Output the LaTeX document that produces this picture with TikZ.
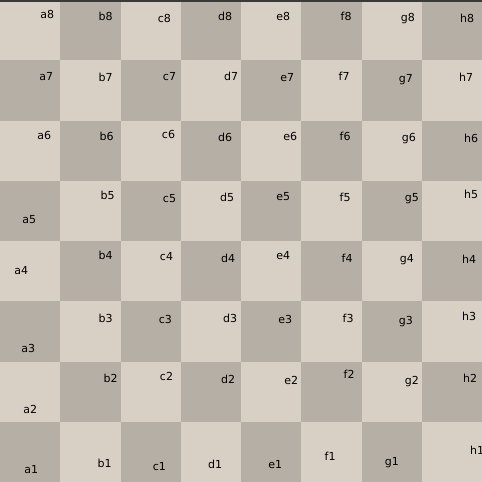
\documentclass[tikz,border=0pt]{standalone}
\usepackage{fontspec}
\setmainfont{DejaVu Sans}
\definecolor{BoardLight}{RGB}{217,208,197}
\definecolor{BoardDark} {RGB}{182,175,165}
\definecolor{BoardEdge} {RGB}{58,58,58}

\begin{document}
\begin{tikzpicture}[
  x=0.025cm, y=-0.025cm,
  lbl/.style={font=\fontsize{7.8}{9}\selectfont, inner sep=0pt,
              anchor=base west, text=black}
]
\useasboundingbox (0,0) rectangle (480,480);

% squares, a8 light in the top left corner
\foreach \c in {0,...,7}
  \foreach \r in {0,...,7}{
    \pgfmathtruncatemacro\sqodd{mod(\c+\r,2)}
    \ifnum\sqodd=0 \def\sqcol{BoardLight}\else\def\sqcol{BoardDark}\fi
    \fill[fill=\sqcol] (60*\c,60*\r) rectangle ++(60,60);
  }
\fill[BoardEdge] (0,0) rectangle (480,2);

% square names (left end, baseline)
\foreach \sq/\lx/\ly in {
  a8/40/18,  b8/98/20,  c8/157/22, d8/217/20, e8/275/20, f8/339/20, g8/399/21, h8/458/22,
  a7/39/80,  b7/98/81,  c7/162/80, d7/223/80, e7/279/81, f7/337/80, g7/397/82, h7/457/81,
  a6/37/139, b6/99/140, c6/161/138, d6/217/141, e6/282/140, f6/338/140, g6/400/141, h6/462/142,
  a5/22/223, b5/100/199, c5/162/202, d5/219/201, e5/275/200, f5/338/201, g5/403/201, h5/462/198,
  a4/14/273, b4/98/258, c4/159/259, d4/220/261, e4/275/258, f4/340/261, g4/398/261, h4/460/262,
  a3/21/351, b3/98/321, c3/158/322, d3/222/321, e3/277/322, f3/341/321, g3/397/323, h3/460/319,
  a2/23/412, b2/103/381, c2/159/379, d2/220/382, e2/283/383, f2/342/377, g2/403/383, h2/461/381,
  a1/24/472, b1/97/466, c1/152/469, d1/207/467, e1/267/467, f1/323/459, g1/383/464, h1/468/453}
  \node[lbl] (\sq) at (\lx,\ly) {\sq};

\end{tikzpicture}
\end{document}
